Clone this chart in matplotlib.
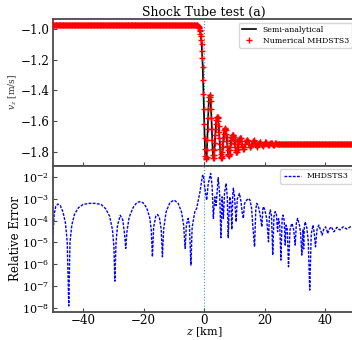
import numpy as np
import matplotlib
matplotlib.use("Agg")
import matplotlib.pyplot as plt

plt.rcParams['font.family'] = ['DejaVu Serif']
plt.rcParams['mathtext.fontset'] = 'dejavuserif'

# ---------------- data ----------------
# top panel: v_z profile
v_left_value = -0.975          # flat upstream level
v_right_value = -1.745         # settled downstream level
# fine part: z = -2.25 .. 12.0 km, step 0.125 km
v_fine = [
    -0.976, -0.978, -0.98, -0.984, -0.99, -0.996, -1.005, -1.016, -1.03, -1.048,
    -1.07, -1.10, -1.14, -1.19, -1.25, -1.33, -1.42, -1.52, -1.62, -1.71,
    -1.78, -1.825, -1.84, -1.845, -1.83, -1.785, -1.72, -1.65, -1.58, -1.52,
    -1.47, -1.44, -1.43, -1.43, -1.44, -1.47, -1.52, -1.58, -1.65, -1.72,
    -1.78, -1.82, -1.84, -1.838, -1.82, -1.785, -1.74, -1.69, -1.65, -1.615,
    -1.59, -1.575, -1.57, -1.572, -1.58, -1.60, -1.63, -1.67, -1.71, -1.75,
    -1.78, -1.81, -1.83, -1.84, -1.84, -1.825, -1.80, -1.765, -1.73, -1.70,
    -1.68, -1.66, -1.65, -1.645, -1.65, -1.66, -1.68, -1.70, -1.73, -1.76,
    -1.79, -1.81, -1.82, -1.825, -1.82, -1.81, -1.79, -1.765, -1.74, -1.72,
    -1.71, -1.70, -1.69, -1.688, -1.69, -1.693, -1.70, -1.713, -1.73, -1.75,
    -1.77, -1.787, -1.80, -1.803, -1.80, -1.79, -1.78, -1.765, -1.75, -1.735,
    -1.72, -1.713, -1.71, -1.708, -1.71,
]
z_fine_start = -2.25
dz_fine = 0.125
# coarse part: z = 12.25 .. 25.0 km, step 0.25 km
v_coarse = [
    -1.73, -1.76, -1.78, -1.78, -1.77, -1.75, -1.73, -1.72, -1.72, -1.73,
    -1.75, -1.77, -1.77, -1.76, -1.745, -1.73, -1.725, -1.73, -1.74, -1.755,
    -1.765, -1.76, -1.75, -1.74, -1.733, -1.735, -1.745, -1.755, -1.76, -1.755,
    -1.745, -1.738, -1.737, -1.742, -1.75, -1.755, -1.755, -1.75, -1.743, -1.74,
    -1.742, -1.748, -1.752, -1.752, -1.748, -1.744, -1.743, -1.745, -1.748, -1.75,
    -1.748, -1.746,
]
z_coarse_start = 12.25
dz = 0.25

# bottom panel: relative error (z in km, log10 of error)
z_err = [
    -49.9, -49.5, -49.0, -48.3, -47.5, -46.6, -45.8, -45.2, -44.7, -44.3,
    -43.7, -42.8, -41.5, -40.0, -38.0, -36.0, -34.0, -32.5, -31.2, -30.3,
    -29.8, -29.5, -29.1, -28.6, -27.7, -26.9, -26.3, -25.9, -25.5, -24.8,
    -23.5, -22.3, -21.3, -20.2, -19.0, -18.0, -17.5, -17.1, -16.7, -16.0,
    -15.4, -14.8, -14.2, -13.8, -13.4, -12.6, -11.3, -9.9, -8.6, -7.5,
    -6.8, -6.3, -5.9, -5.3, -4.9, -4.4, -4.0, -3.1, -2.5, -1.4,
    -0.6, -0.3, 0.1, 0.8, 1.3, 2.1, 2.6, 3.0, 3.5, 3.9,
    4.6, 5.1, 5.5, 5.9, 6.3, 6.7, 7.2, 7.6, 7.9, 8.4,
    8.8, 9.1, 9.4, 9.6, 10.0, 10.5, 10.9, 11.6, 12.1, 12.5,
    12.9, 13.3, 14.0, 14.6, 15.1, 15.6, 16.0, 16.6, 17.0, 17.3,
    17.8, 18.4, 19.0, 19.3, 19.5, 20.0, 20.6, 21.2, 21.5, 21.8,
    22.2, 22.6, 23.0, 23.4, 23.8, 24.2, 24.5, 24.9, 25.3, 25.7,
    26.0, 26.4, 26.7, 27.0, 27.4, 27.8, 28.3, 28.9, 29.5, 30.0,
    30.4, 30.8, 31.4, 31.8, 32.2, 32.6, 32.8, 33.0, 33.3, 33.8,
    34.3, 34.8, 35.3, 35.9, 36.3, 36.7, 37.2, 37.8, 38.3, 38.9,
    39.4, 40.0, 40.4, 40.7, 41.2, 41.9, 42.4, 42.8, 43.3, 43.8,
    44.3, 44.8, 45.3, 45.8, 46.4, 47.0, 47.6, 48.2, 48.8, 49.5,
]
err_log10 = [
    -4.6, -3.7, -3.35, -3.23, -3.3, -3.6, -4.1, -5.0, -7.92, -5.0,
    -4.2, -3.7, -3.4, -3.25, -3.2, -3.2, -3.25, -3.45, -3.8, -4.4,
    -5.2, -6.78, -5.0, -4.2, -3.75, -3.95, -4.6, -5.27, -4.5, -3.85,
    -3.4, -3.17, -3.12, -3.17, -3.4, -3.85, -4.4, -5.66, -4.3, -3.8,
    -3.71, -3.85, -4.4, -5.66, -4.4, -3.6, -3.15, -3.05, -3.2, -3.6,
    -4.2, -5.27, -4.2, -3.89, -4.2, -6.04, -4.3, -3.58, -3.43, -2.66,
    -1.93, -1.89, -2.4, -3.05, -2.3, -1.82, -2.4, -3.89, -2.9, -3.3,
    -2.02, -2.8, -4.78, -2.9, -3.9, -2.7, -2.28, -2.9, -4.78, -2.9,
    -3.2, -4.4, -2.8, -2.5, -2.9, -4.05, -3.0, -2.74, -3.1, -3.6,
    -3.89, -3.2, -3.05, -2.97, -3.05, -3.4, -4.2, -5.2, -3.5, -3.2,
    -3.3, -3.7, -4.28, -3.5, -3.35, -3.5, -3.9, -4.97, -3.7, -3.5,
    -3.8, -5.58, -3.8, -3.58, -3.7, -4.5, -3.9, -4.2, -5.81, -3.9,
    -3.74, -4.0, -5.12, -4.2, -4.4, -6.12, -4.4, -4.12, -4.4, -5.12,
    -4.1, -3.89, -4.2, -4.6, -5.58, -4.4, -5.3, -4.3, -4.05, -4.3,
    -4.9, -7.19, -4.6, -4.2, -4.6, -5.2, -4.4, -4.2, -4.4, -4.66,
    -4.4, -4.28, -4.4, -4.59, -4.4, -4.28, -4.4, -4.51, -4.4, -4.3,
    -4.38, -4.42, -4.35, -4.28, -4.33, -4.38, -4.33, -4.28, -4.28, -4.3,
]

top_title = "Shock Tube test (a)"
top_ylabel = r"$v_z$ [m/s]"
bottom_ylabel = "Relative Error"
xlabel = r"$z$ [km]"
legend_top = ["Semi-analytical", "Numerical MHDSTS3"]
legend_bottom = "MHDSTS3"

# ------------- build arrays -------------
z_fine = z_fine_start + dz_fine * np.arange(len(v_fine))
z_coarse = z_coarse_start + dz * np.arange(len(v_coarse))
z_left = np.arange(-52.0, z_fine_start - 1e-9, dz)
z_right = np.arange(z_coarse[-1] + dz, 52.0 + 1e-9, dz)
z_all = np.concatenate([z_left, z_fine, z_coarse, z_right])
v_all = np.concatenate([np.full(len(z_left), v_left_value), np.array(v_fine),
                        np.array(v_coarse), np.full(len(z_right), v_right_value)])
err = 10.0 ** np.array(err_log10)

# ---------------- figure ----------------
W, H = 352, 340
fig = plt.figure(figsize=(W / 100, H / 100), dpi=100)

x0 = 52.7 / W
x1 = 355.8 / W
ax1 = fig.add_axes([x0, 1 - 165.5 / H, x1 - x0, (165.5 - 19) / H])
ax2 = fig.add_axes([x0, 1 - 312 / H, x1 - x0, (312 - 165.5) / H], sharex=ax1)

spine_col = '#4a4a4a'
for ax in (ax1, ax2):
    for s in ax.spines.values():
        s.set_color(spine_col)
        s.set_linewidth(1.3)
    ax.tick_params(direction='in', labelsize=8.6, color=spine_col, width=0.8,
                   length=3, pad=2.5)
    ax.axvline(0, color='#3b9ad9', ls=':', lw=0.8, zorder=1)

ax1.plot(z_all, v_all, color='black', lw=1.2, label=legend_top[0], zorder=2)
ax1.plot(z_all, v_all, ls='none', marker='+', color='red', ms=4.5, mew=1.0,
         label=legend_top[1], zorder=3)
ax1.set_xlim(-50, 50)
ax1.set_ylim(-1.888, -0.935)
ax1.set_yticks([-1.0, -1.2, -1.4, -1.6, -1.8])
ax1.set_ylabel(top_ylabel, fontsize=6.5, color='#333333')
ax1.yaxis.set_label_coords((19 - 52.7) / (355.8 - 52.7), 0.5)
ax1.set_title(top_title, fontsize=9, pad=2)
ax1.tick_params(labelbottom=False)
leg1 = ax1.legend(loc='upper right', fontsize=5.6, frameon=True, fancybox=True,
                  borderpad=0.4, handlelength=1.8, labelspacing=0.35,
                  borderaxespad=0.5, bbox_to_anchor=(1.0, 1.0))
leg1.get_frame().set_edgecolor('#cccccc')

ax2.plot(z_err, err, color='blue', ls=(0, (2, 1)), lw=1.0, label=legend_bottom)
ax2.set_yscale('log')
ax2.set_ylim(10 ** -8.2, 10 ** -1.456)
ax2.set_yticks([1e-2, 1e-3, 1e-4, 1e-5, 1e-6, 1e-7, 1e-8])
ax2.tick_params(axis='y', labelsize=8)
ax2.tick_params(axis='x', pad=1.5)
ax2.tick_params(which='minor', direction='in', length=1.5, color=spine_col)
ax2.set_xticks([-40, -20, 0, 20, 40])
ax2.set_xlabel(xlabel, fontsize=8)
ax2.xaxis.set_label_coords(0.5, (312 - 332.5) / (312 - 165.5))
ax2.xaxis.label.set_va('center')
ax2.set_ylabel(bottom_ylabel, fontsize=8.5)
ax2.yaxis.set_label_coords((21.7 - 52.7) / (355.8 - 52.7), 0.5)
leg2 = ax2.legend(loc='upper right', fontsize=5.6, frameon=True,
                  borderpad=0.4, handlelength=2.2, borderaxespad=0.5,
                  bbox_to_anchor=(1.0, 1.0))
leg2.get_frame().set_edgecolor('#cccccc')

fig.savefig("out.png", dpi=100)
